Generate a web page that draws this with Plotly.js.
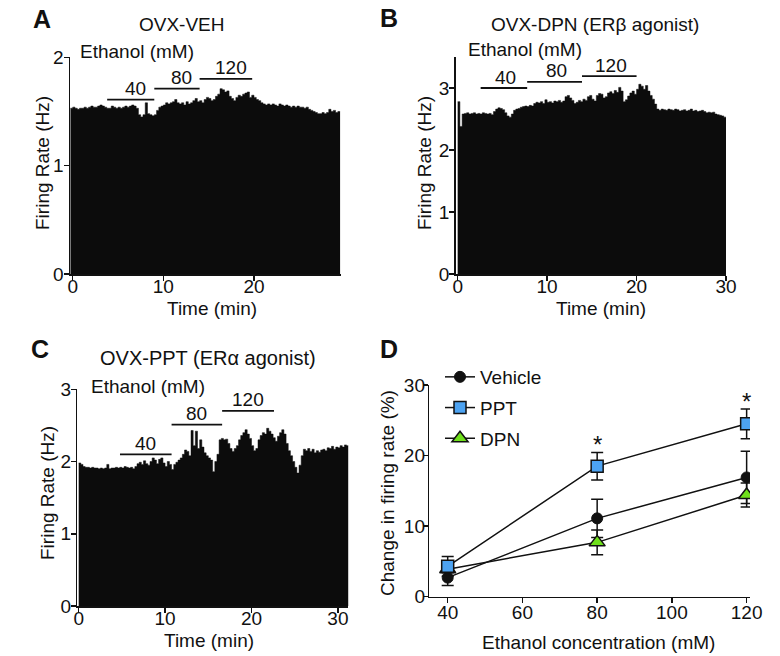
<!DOCTYPE html>
<html><head><meta charset="utf-8">
<script src="https://cdn.plot.ly/plotly-3.0.1.min.js"></script>
<style>html,body{margin:0;padding:0;background:#fff}#chart{width:780px;height:656px}</style>
</head><body><div id="chart"></div>
<script>
// ---------- DATA ----------
const binWidth = 0.25; // min per histogram bin

// Panel A: OVX-VEH firing-rate histogram (Hz), bins start at -0.25 min
const vehBinStart = -0.25;
const vehRate = [1.53,
 1.54,1.53,1.52,1.53, 1.53,1.54,1.53,1.54, 1.55,1.54,1.54,1.55, 1.56,1.55,1.54,1.53,
 1.53,1.55,1.54,1.53, 1.54,1.53,1.54,1.55, 1.54,1.55,1.56,1.55, 1.53,1.47,1.45,1.47,
 1.58,1.48,1.47,1.46, 1.47,1.51,1.54,1.55, 1.56,1.58,1.57,1.58, 1.59,1.61,1.58,1.57,
 1.58,1.56,1.59,1.57, 1.58,1.60,1.62,1.59, 1.60,1.58,1.61,1.63, 1.62,1.60,1.61,1.64,
 1.66,1.71,1.70,1.68, 1.69,1.64,1.62,1.60, 1.63,1.65,1.64,1.66, 1.67,1.68,1.63,1.65,
 1.63,1.61,1.60,1.58, 1.57,1.56,1.57,1.56, 1.57,1.56,1.55,1.57, 1.56,1.55,1.56,1.55,
 1.54,1.55,1.54,1.55, 1.54,1.54,1.53,1.54, 1.52,1.51,1.50,1.49, 1.48,1.48,1.49,1.48,
 1.49,1.52,1.50,1.51, 1.49,1.50];
const vehEthanolOn  = [3.8, 9.0, 14.0];
const vehEthanolOff = [9.0, 14.0, 19.8];

// Panel B: OVX-DPN firing-rate histogram (Hz), bins start at 0 min
const dpnBinStart = 0;
const dpnRate = [
 2.78,2.38,2.58,2.59, 2.60,2.58,2.59,2.60, 2.58,2.59,2.58,2.60, 2.59,2.58,2.59,2.57,
 2.62,2.66,2.68,2.67, 2.65,2.60,2.55,2.53, 2.58,2.64,2.66,2.67, 2.69,2.70,2.71,2.70,
 2.72,2.71,2.75,2.77, 2.76,2.78,2.75,2.81, 2.77,2.78,2.76,2.79, 2.78,2.80,2.77,2.79,
 2.86,2.88,2.84,2.80, 2.75,2.77,2.80,2.78, 2.82,2.80,2.86,2.88, 2.82,2.79,2.88,2.91,
 2.90,2.84,2.86,2.92, 2.94,2.91,2.96,2.93, 3.01,2.95,2.78,2.81, 2.87,2.92,2.95,2.90,
 2.98,3.06,3.03,2.98, 3.04,2.95,2.88,2.82, 2.74,2.66,2.64,2.66, 2.65,2.64,2.66,2.65,
 2.64,2.66,2.65,2.63, 2.64,2.65,2.63,2.64, 2.66,2.63,2.64,2.62, 2.63,2.64,2.62,2.60,
 2.61,2.60,2.61,2.58, 2.57,2.56,2.55,2.53];
const dpnEthanolOn  = [2.57, 7.77, 13.9];
const dpnEthanolOff = [7.77, 13.9, 20.0];

// Panel C: OVX-PPT firing-rate histogram (Hz), bins start at 0 min
const pptBinStart = 0;
const pptRate = [
 1.98,1.96,1.93,1.92, 1.92,1.91,1.92,1.91, 1.91,1.90,1.91,1.90, 1.91,1.96,1.90,1.91,
 1.91,1.92,1.91,1.92, 1.91,1.93,1.92,1.91, 1.92,1.90,1.93,1.97, 1.99,1.96,2.01,1.97,
 1.95,2.00,2.05,2.02, 1.97,2.03,2.05,1.98, 1.93,2.00,1.96,1.89, 1.96,1.99,2.02,2.05,
 2.10,2.16,2.14,2.08, 2.43,2.22,2.42,2.18, 2.30,2.20,2.12,2.08, 2.05,2.02,1.86,2.00,
 2.10,2.30,2.32,2.30, 2.31,2.25,2.18,2.14, 2.18,2.22,2.30,2.36, 2.40,2.44,2.38,2.32,
 2.22,2.15,2.18,2.30, 2.36,2.40,2.38,2.46, 2.42,2.38,2.33,2.28, 2.35,2.40,2.44,2.38,
 2.25,2.15,2.08,2.00, 1.92,1.84,1.95,2.08, 2.17,2.15,2.18,2.14, 2.17,2.12,2.15,2.13,
 2.16,2.17,2.15,2.19, 2.18,2.21,2.17,2.20, 2.19,2.22,2.20,2.23, 2.22];
const pptEthanolOn  = [4.78, 10.75, 16.6];
const pptEthanolOff = [10.75, 16.6, 22.6];

const ethanolDoses = ["40", "80", "120"];

// Panel D: change in firing rate (%) vs ethanol concentration (mM)
const concentrations = [40, 80, 120];
const vehicleMean = [2.7, 11.1, 16.9];
const vehicleSem  = [1.1, 2.7, 3.7];
const pptMean = [4.3, 18.5, 24.5];
const pptSem  = [1.4, 1.95, 2.1];
const dpnMean = [3.9, 7.7, 14.4];
const dpnSem  = [0.5, 1.75, 1.7];
const significantAt = [80, 120];

// ---------- DRAWING ----------
const W = 780, H = 656;
const FONT = "Liberation Sans, Arial, Helvetica, sans-serif";
const INK = "#0c0c0c";

function stepXY(start, width, vals) {
  const x = [], y = [];
  vals.forEach((v, i) => { x.push(start + i * width); y.push(v); });
  x.push(start + vals.length * width); y.push(vals[vals.length - 1]);
  return {x, y};
}
function histTrace(start, vals, xa, ya) {
  const s = stepXY(start, binWidth, vals);
  return {type: "scatter", mode: "lines", x: s.x, y: s.y, xaxis: xa, yaxis: ya,
    line: {shape: "hv", width: 0.5, color: INK}, fill: "tozeroy", fillcolor: INK,
    hoverinfo: "skip", showlegend: false};
}

const traces = [
  histTrace(vehBinStart, vehRate, "x", "y"),
  histTrace(dpnBinStart, dpnRate, "x2", "y2"),
  histTrace(pptBinStart, pptRate, "x3", "y3")
];

const annotations = [];
function pa(text, x, y, extra) {
  annotations.push(Object.assign({text, x: x / W, y: 1 - y / H, xref: "paper", yref: "paper",
    showarrow: false, xanchor: "center", yanchor: "middle",
    font: {family: FONT, size: 19, color: "#111"}}, extra || {}));
}

// ethanol application bars + labels
function ethanolBars(on, off, levels, xa, ya, labelShift) {
  on.forEach((t0, i) => {
    traces.push({type: "scatter", mode: "lines", x: [t0, off[i]], y: [levels[i], levels[i]],
      xaxis: xa, yaxis: ya, line: {color: "#111", width: 1.8}, hoverinfo: "skip", showlegend: false});
    annotations.push({text: ethanolDoses[i], x: (t0 + off[i]) / 2, y: levels[i],
      xref: xa, yref: ya, showarrow: false, xanchor: "center", yanchor: "middle",
      xshift: labelShift, yshift: 11, font: {family: FONT, size: 19, color: "#111"}});
  });
}
ethanolBars(vehEthanolOn, vehEthanolOff, [1.61, 1.71, 1.80], "x", "y", 5);
ethanolBars(dpnEthanolOn, dpnEthanolOff, [3.0, 3.10, 3.19], "x2", "y2", 2);
ethanolBars(pptEthanolOn, pptEthanolOff, [2.10, 2.51, 2.70], "x3", "y3", 0);

// Panel D traces
const errStyle = {type: "data", visible: true, color: "#111", thickness: 1.5, width: 6};
traces.push({type: "scatter", mode: "lines+markers", name: "Vehicle", legendrank: 1, legendgroup: "v",
  x: concentrations, y: vehicleMean, xaxis: "x4", yaxis: "y4",
  error_y: Object.assign({array: vehicleSem}, errStyle),
  line: {color: "#111", width: 1.5},
  marker: {symbol: "circle", size: 11, color: "#111", line: {color: "#111", width: 1}}});
traces.push({type: "scatter", mode: "lines+markers", name: "DPN", legendrank: 3, legendgroup: "d",
  x: concentrations, y: dpnMean, xaxis: "x4", yaxis: "y4",
  error_y: Object.assign({array: dpnSem}, errStyle),
  line: {color: "#111", width: 1.5},
  marker: {symbol: "triangle-up", size: 14, color: "#6fe01b", line: {color: "#111", width: 1.5}}});
traces.push({type: "scatter", mode: "lines+markers", name: "PPT", legendrank: 2, legendgroup: "p",
  x: concentrations, y: pptMean, xaxis: "x4", yaxis: "y4",
  error_y: Object.assign({array: pptSem}, errStyle),
  line: {color: "#111", width: 1.5},
  marker: {symbol: "square", size: 12, color: "#4da3f2", line: {color: "#111", width: 1.5}}});

significantAt.forEach(c => {
  const i = concentrations.indexOf(c);
  annotations.push({text: "*", x: c, y: pptMean[i] + pptSem[i], xref: "x4", yref: "y4",
    showarrow: false, xanchor: "center", yanchor: "bottom", yshift: -8,
    font: {family: FONT, size: 24, color: "#111"}});
});

// text labels (paper px)
const bold = {font: {family: FONT, size: 25, color: "#111", weight: 700}};
pa("<b>A</b>", 42, 19, bold);
pa("<b>B</b>", 389, 18, bold);
pa("<b>C</b>", 40, 349, bold);
pa("<b>D</b>", 389, 349, bold);
pa("OVX-VEH", 182, 25);
pa("OVX-DPN (ERβ agonist)", 595, 25);
pa("OVX-PPT (ERα agonist)", 208, 358, {font: {family: FONT, size: 20, color: "#111"}});
pa("Ethanol (mM)", 137, 51);
pa("Ethanol (mM)", 525, 50);
pa("Ethanol (mM)", 148, 386);
pa("Time (min)", 212, 308);
pa("Time (min)", 601, 308);
pa("Time (min)", 209, 640);
pa("Ethanol concentration (mM)", 598, 642);
pa("Firing Rate (Hz)", 42, 163, {textangle: -90});
pa("Firing Rate (Hz)", 424, 163, {textangle: -90});
pa("Firing Rate (Hz)", 48, 493, {textangle: -90});
pa("Change in firing rate (%)", 388, 493, {textangle: -90});

function axis(dom, range, tickvals, anchor, standoff) {
  return {domain: dom, range, tickvals, anchor, showline: true, linecolor: "#111", linewidth: 1.5,
    ticks: "outside", ticklen: 5, tickwidth: 1.5, tickcolor: "#111", showgrid: false,
    zeroline: false, fixedrange: true, ticklabelstandoff: standoff,
    tickfont: {family: FONT, size: 19, color: "#111"}};
}
const px = v => v / W, py = v => 1 - v / H;

const layout = {
  width: W, height: H, autosize: false,
  margin: {l: 0, r: 0, t: 0, b: 0, pad: 0},
  paper_bgcolor: "#fff", plot_bgcolor: "rgba(0,0,0,0)",
  font: {family: FONT, size: 19, color: "#111"},
  xaxis:  axis([px(70), px(341)], [-0.3, 29.6], [0, 10, 20], "y", -10),
  yaxis:  axis([py(274), py(57.3)], [0, 2], [0, 1, 2], "x", -4),
  xaxis2: axis([px(455.7), px(726)], [-0.22, 30], [0, 10, 20, 30], "y2", -10),
  yaxis2: axis([py(274), py(57)], [0, 3.5], [0, 1, 2, 3], "x2", -4),
  xaxis3: axis([px(77.3), px(348.3)], [-0.16, 31.2], [0, 10, 20, 30], "y3", -10),
  yaxis3: axis([py(606), py(389.3)], [0, 3], [0, 1, 2, 3], "x3", -4),
  xaxis4: axis([px(429.3), px(750)], [35.08, 120.9], [40, 60, 80, 100, 120], "y4", -7),
  yaxis4: axis([py(596.7), py(385)], [0, 30], [0, 10, 20, 30], "x4", -6),
  showlegend: true,
  legend: {x: px(440), y: py(358), xanchor: "left", yanchor: "top",
    bgcolor: "rgba(0,0,0,0)", font: {family: FONT, size: 19, color: "#111"},
    itemwidth: 30, traceorder: "grouped", tracegroupgap: 3},
  annotations
};

Plotly.newPlot("chart", traces, layout, {staticPlot: true, displayModeBar: false});
</script>
</body></html>
